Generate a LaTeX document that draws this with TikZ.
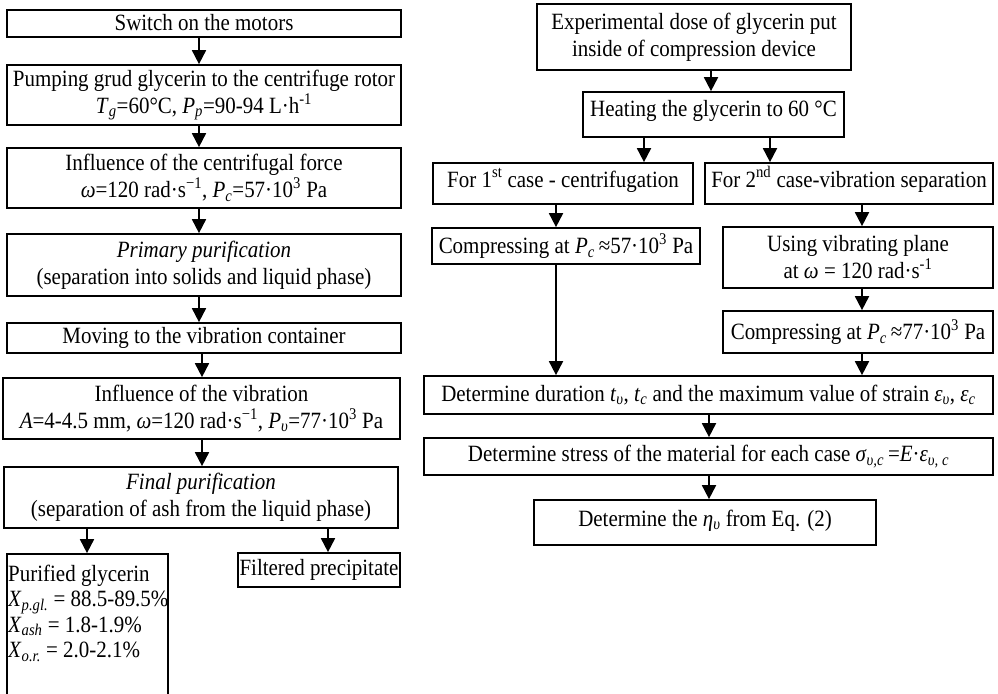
\documentclass[tikz,border=0pt]{standalone}
\usepackage{fontspec}
\setmainfont{Liberation Serif}[FakeStretch=0.9]
\usetikzlibrary{arrows.meta}
\newcommand\fsz{\fontsize{23.3}{27}\selectfont}
\newcommand\fszb{\fontsize{23.3}{25.3}\selectfont}
\newcommand\sbi[1]{\textsubscript{\textit{#1}}}
\newcommand\sps[1]{\textsuperscript{#1}}
\newcommand\flbox[6][]{\node[box,#1,minimum width={(#4-#3)*1pt},minimum height={(#6-#5)*1pt}] (#2) at ({(#3+#4)/2},{(#5+#6)/2})}
\begin{document}
\begin{tikzpicture}[x=1pt,y=-1pt,
  box/.style={draw, line width=1.7pt, inner sep=0pt, font=\fsz},
  arr/.style={-{Triangle[length=14pt,width=14pt]}, line width=1.8pt}]
\useasboundingbox (0,0) rectangle (998,693);
\clip (0,0) rectangle (998,693);
\fill[white] (0,0) rectangle (998,693);

% ---------- left column ----------
\flbox[text height=21pt, text depth=6pt]{L1}{7}{401}{10}{37}{Switch on the motors};
\flbox[align=center]{L2}{7}{401}{65}{125}{Pumping grud glycerin to the centrifuge rotor\\
  \textit{T}\sbi{g}=60°C, \textit{P}\sbi{p}=90-94 L·h\sps{-1}};
\flbox[align=center]{L3}{7}{401}{148}{208}{Influence of the centrifugal force\\
  \textit{ω}=120 rad·s\sps{−1}, \textit{P}\sbi{c}=57·10\sps{3} Pa};
\flbox[align=center]{L4}{7}{401}{234}{296}{\textit{Primary purification}\\
  (separation into solids and liquid phase)};
\flbox{L5}{7}{401}{323}{353}{Moving to the vibration container};
\flbox[align=center]{L6}{3}{400}{378}{439}{Influence of the vibration\\
  \textit{A}=4-4.5 mm, \textit{ω}=120 rad·s\sps{−1}, \textit{P}\sbi{υ}=77·10\sps{3} Pa};
\flbox[align=center]{L7}{4}{398}{467}{528}{\textit{Final purification}\\
  (separation of ash from the liquid phase)};
\flbox{L8}{7}{168}{554}{702}{};
\node[font=\fszb, inner sep=0pt, anchor=north west, align=left] (L8t) at (8,565)
  {Purified glycerin\\
   \textit{X}\sbi{p.gl.} = 88.5-89.5\%\\
   \textit{X}\sbi{ash} = 1.8-1.9\%\\
   \textit{X}\sbi{o.r.} = 2.0-2.1\%};
\flbox{L9}{238}{400}{553}{587}{Filtered precipitate};

\coordinate (xa) at (199,0);
\coordinate (xb) at (202,0);
\coordinate (xc) at (87,0);
\coordinate (xd) at (328,0);
\draw[arr] (L1.south -| xa) -- (L2.north -| xa);
\draw[arr] (L2.south -| xa) -- (L3.north -| xa);
\draw[arr] (L3.south -| xa) -- (L4.north -| xa);
\draw[arr] (L4.south -| xa) -- (L5.north -| xa);
\draw[arr] (L5.south -| xb) -- (L6.north -| xb);
\draw[arr] (L6.south -| xb) -- (L7.north -| xb);
\draw[arr] (L7.south -| xc) -- (L8.north -| xc);
\draw[arr] (L7.south -| xd) -- (L9.north -| xd);

% ---------- right column ----------
\flbox[align=center]{A}{537}{851}{4}{70}{Experimental dose of glycerin put\\inside of compression device};
\flbox[text height=24pt, text depth=21pt]{B}{583}{844}{92}{137}{Heating the glycerin to 60 °C};
\flbox[text height=24pt, text depth=17pt]{C}{433}{693}{163}{204}{For 1\sps{st} case - centrifugation};
\flbox[text height=24pt, text depth=17pt]{D}{705}{993}{163}{204}{For 2\sps{nd} case-vibration separation};
\flbox{E}{432}{700}{228}{264}{Compressing at \textit{P}\sbi{c}\,≈57·10\sps{3} Pa};
\flbox[align=center]{F}{723}{993}{227}{288}{Using vibrating plane\\at \textit{ω} = 120 rad·s\sps{-1}};
\flbox{G}{723}{993}{311}{353}{Compressing at \textit{P}\sbi{c}\,≈77·10\sps{3} Pa};
\flbox{H}{424}{993}{376}{414}{Determine duration \textit{t}\sbi{υ}, \textit{t}\sbi{c} and the maximum value of strain \textit{ε}\sbi{υ}, \textit{ε}\sbi{c}};
\flbox{I}{424}{993}{438}{475}{Determine stress of the material for each case \textit{σ}\sbi{υ,c}\,=\textit{E}·\textit{ε}\sbi{υ, c}};
\flbox[text height=26pt, text depth=19pt]{J}{534}{876}{500}{545}{Determine the \textit{η}\sbi{υ} from Eq. (2)};

\coordinate (xe) at (711,0);
\coordinate (xf) at (644,0);
\coordinate (xg) at (770,0);
\coordinate (xh) at (556,0);
\coordinate (xi) at (862,0);
\coordinate (xj) at (709,0);
\draw[arr] (A.south -| xe) -- (B.north -| xe);
\draw[arr] (B.south -| xf) -- (C.north -| xf);
\draw[arr] (B.south -| xg) -- (D.north -| xg);
\draw[arr] (C.south -| xh) -- (E.north -| xh);
\draw[arr] (D.south -| xi) -- (F.north -| xi);
\draw[arr] (F.south -| xi) -- (G.north -| xi);
\draw[arr] (E.south -| xh) -- (H.north -| xh);
\draw[arr] (G.south -| xi) -- (H.north -| xi);
\draw[arr] (H.south -| xj) -- (I.north -| xj);
\draw[arr] (I.south -| xj) -- (J.north -| xj);
\end{tikzpicture}
\end{document}
